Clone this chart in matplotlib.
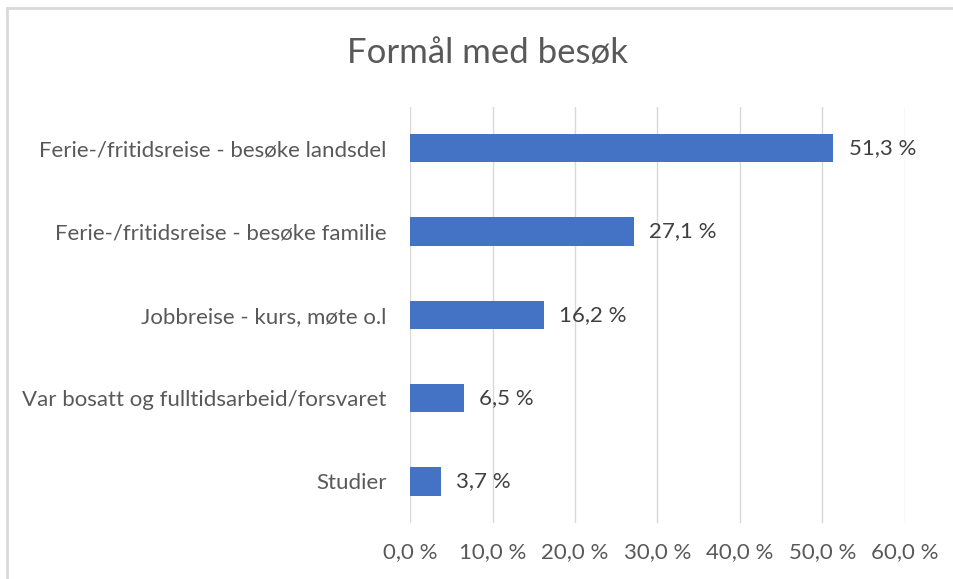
import matplotlib
matplotlib.use('Agg')
import matplotlib.pyplot as plt
from matplotlib.lines import Line2D

categories = [
    'Ferie-/fritidsreise - besøke landsdel',
    'Ferie-/fritidsreise - besøke familie',
    'Jobbreise - kurs, møte o.l',
    'Var bosatt og fulltidsarbeid/forsvaret',
    'Studier',
]
values = [51.3, 27.1, 16.2, 6.5, 3.7]
xticks = [0, 10, 20, 30, 40, 50, 60]

TXT = '#595959'
plt.rcParams['font.family'] = ['Lato', 'DejaVu Sans']

fig = plt.figure(figsize=(9.54, 5.79), dpi=100)
ax = fig.add_axes([0.4298, 0.0967, 0.5188, 0.7193])

pos = list(range(len(categories)))
ax.barh(pos, values, height=0.34, color='#4472C4', zorder=3)
for p, v in zip(pos, values):
    ax.text(v + 1.9, p, f'{v:.1f} %'.replace('.', ','), va='center', ha='left',
            fontsize=16, color='#404040')

ax.set_ylim(len(categories) - 0.5, -0.5)
ax.set_xlim(0, 60)
ax.set_yticks(pos)
ax.set_yticklabels(categories, fontsize=16, color=TXT)
ax.set_xticks(xticks)
ax.set_xticklabels([f'{t:.1f} %'.replace('.', ',') for t in xticks], fontsize=16, color=TXT)
ax.tick_params(axis='both', length=0)
ax.tick_params(axis='x', pad=14)
ax.tick_params(axis='y', pad=17)
ax.grid(axis='x', color='#d9d9d9', linewidth=1, zorder=0)
for s in ax.spines.values():
    s.set_visible(False)

fig.text(0.5105, 0.908, 'Formål med besøk', ha='center', va='center', fontsize=25, color=TXT)

# chart-area border (only left and top visible in the crop)
bx, by = 7.5 / 954, 1 - 7.5 / 579
fig.add_artist(Line2D([bx, bx], [0, by], transform=fig.transFigure, color='#d9d9d9', linewidth=2))
fig.add_artist(Line2D([bx, 1], [by, by], transform=fig.transFigure, color='#d9d9d9', linewidth=2))

fig.savefig('out.png', dpi=100)
